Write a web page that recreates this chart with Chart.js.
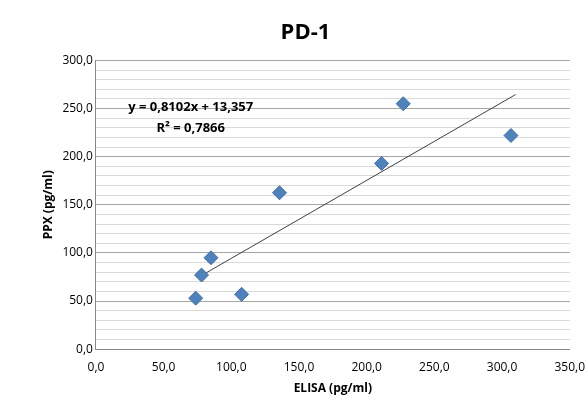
<!DOCTYPE html>
<html>
<head>
<meta charset="utf-8">
<script src="https://cdn.jsdelivr.net/npm/chart.js@4"></script>
<style>
  html, body { margin: 0; padding: 0; background: #fff; }
  #wrap { width: 588px; height: 410px; }
</style>
</head>
<body>
<div id="wrap"><canvas id="chart"></canvas></div>
<script>
// Measured points (ELISA vs PPX, pg/ml)
const elisa = [73.7, 78, 85, 107.6, 135.6, 211, 227, 306.6];
const ppx = [53, 77, 95, 57, 162.5, 193, 255, 222];
const slope = 0.8102;
const intercept = 13.357;
const trendX = [78, 310];
const eqText = 'y = 0,8102x + 13,357';
const r2Text = 'R² = 0,7866';

const fmt = v => v.toFixed(1).replace('.', ',');

const labelPlugin = {
    id: 'eqLabel',
    afterDatasetsDraw(chart) {
        const { ctx, scales } = chart;
        ctx.save();
        ctx.font = 'bold 13px "Open Sans", sans-serif';
        ctx.fillStyle = '#000';
        ctx.textAlign = 'center';
        ctx.textBaseline = 'middle';
        ctx.fillText(eqText, scales.x.getPixelForValue(70), scales.y.getPixelForValue(251));
        ctx.fillText(r2Text, scales.x.getPixelForValue(70), scales.y.getPixelForValue(229));
        ctx.restore();
    }
};

new Chart(document.getElementById('chart'), {
    type: 'scatter',
    data: {
        datasets: [{
            data: elisa.map((x, i) => ({ x: x, y: ppx[i] })),
            pointStyle: 'rectRot',
            pointRadius: 7,
            pointHoverRadius: 7,
            backgroundColor: '#4f81bd',
            borderColor: '#3f6fa8',
            borderWidth: 1
        }, {
            type: 'line',
            data: trendX.map(x => ({ x: x, y: slope * x + intercept })),
            borderColor: '#404040',
            borderWidth: 1,
            pointRadius: 0,
            fill: false
        }]
    },
    options: {
        responsive: true,
        maintainAspectRatio: false,
        animation: false,
        layout: { padding: { left: 37, right: 14, top: 0, bottom: 10 } },
        plugins: {
            legend: { display: false },
            tooltip: { enabled: false },
            title: {
                display: true,
                text: 'PD-1',
                color: '#000',
                font: { family: '"Open Sans", sans-serif', size: 22, weight: 'bold' },
                padding: { top: 20, bottom: 14 }
            }
        },
        scales: {
            x: {
                type: 'linear',
                min: 0, max: 350,
                ticks: {
                    stepSize: 50,
                    callback: v => fmt(v),
                    color: '#000',
                    font: { family: '"Open Sans", sans-serif', size: 12 }
                },
                grid: { display: false, drawTicks: true },
                border: { color: '#888' },
                title: {
                    display: true, text: 'ELISA (pg/ml)', color: '#000',
                    font: { family: '"Open Sans", sans-serif', size: 12, weight: 'bold' }
                }
            },
            y: {
                min: 0, max: 300,
                ticks: {
                    stepSize: 10,
                    autoSkip: false,
                    callback: v => (v % 50 === 0 ? fmt(v) : ''),
                    color: '#000',
                    font: { family: '"Open Sans", sans-serif', size: 12 }
                },
                grid: {
                    color: c => (c.tick && c.tick.value % 50 === 0 ? '#a6a6a6' : '#d9d9d9'),
                    lineWidth: 1,
                    drawTicks: false
                },
                border: { color: '#888' },
                title: {
                    display: true, text: 'PPX (pg/ml)', color: '#000',
                    font: { family: '"Open Sans", sans-serif', size: 12, weight: 'bold' }
                }
            }
        }
    },
    plugins: [labelPlugin]
});
</script>
</body>
</html>
